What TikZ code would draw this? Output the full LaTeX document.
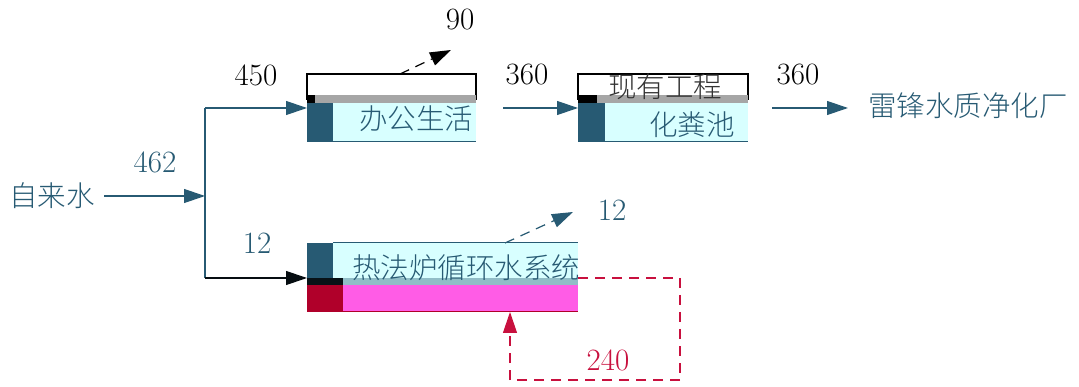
\documentclass[tikz,border=0pt]{standalone}
\usepackage{fontspec}
\setmainfont{Latin Modern Roman}
\newfontfamily\cjk{Noto Sans CJK SC Light}
\usetikzlibrary{arrows.meta}
\definecolor{teal1}{HTML}{275A73}
\definecolor{cyanf}{HTML}{D8FFFF}
\definecolor{magf}{HTML}{FF5CE6}
\definecolor{redd}{HTML}{B0002A}
\definecolor{crim}{HTML}{C8103E}
\tikzset{
  flow/.style={draw=teal1, line width=1.2pt, -{Triangle[length=21pt,width=14pt]}},
  dflow/.style={flow, dash pattern=on 10pt off 7pt},
  num/.style={font=\fontsize{31}{33}\selectfont, inner sep=0pt},
  cn/.style={font=\cjk\fontsize{28.5}{30}\selectfont, inner sep=0pt, text=teal1},
}
\begin{document}
\begin{tikzpicture}[x=1pt,y=-1pt]
\useasboundingbox (0,0) rectangle (1079,387);
% box 1
\fill[white] (307,74) rectangle (476,100);
\draw[black, line width=1.2pt] (307,100) -- (307,74) -- (476,74) -- (476,100);
\fill[cyanf] (307,100) rectangle (476,142);
\fill[teal1] (307,100) rectangle (333,142);
\fill[black!35] (315,95) rectangle (476,103);
\fill[black] (307,95) rectangle (315,103);
\draw[teal1, line width=1pt] (307,142) -- (476,142);
\node[cn, text=teal1] (b1) at (416,119) {办公生活};
\coordinate (b1in) at (307,108);
\coordinate (b1top) at (400,74);
% box 2
\fill[white] (578,74) rectangle (748,100);
\draw[black, line width=1.2pt] (578,100) -- (578,74) -- (748,74) -- (748,100);
\fill[cyanf] (578,100) rectangle (748,142);
\fill[teal1] (578,100) rectangle (605,142);
\fill[black!35] (585,95) rectangle (748,103);
\fill[black] (578,95) rectangle (597,103);
\draw[teal1, line width=1pt] (578,142) -- (748,142);
\node[cn, text=black!80] (b2a) at (665,87) {现有工程};
\node[cn] (b2) at (692,125) {化粪池};
\coordinate (b2in) at (578,108);
% box 3
\fill[cyanf] (307,243) rectangle (578,278);
\fill[teal1] (307,243) rectangle (333,278);
\draw[teal1, line width=1pt] (333,243) -- (578,243);
\fill[magf] (307,278) rectangle (578,312);
\fill[black!80!teal1] (307,278) rectangle (343,285);
\fill[cyanf!60!teal1] (343,278) rectangle (578,285);
\fill[redd] (307,285) rectangle (343,312);
\draw[redd, line width=1pt] (307,312) -- (578,312);
\node[cn] (b3) at (466,268) {热法炉循环水系统};
\coordinate (b3in) at (307,278);
\coordinate (b3top) at (505,243);
\coordinate (b3r) at (578,278);
\coordinate (b3b) at (510,312);
% left inputs
\node[cn] (src) at (52,196) {自来水};
\coordinate (j) at (205,196);
\coordinate (jt) at (205,108);
\coordinate (jb) at (205,278);
\draw[flow] (104,196) -- (j);
\draw[teal1, line width=1.2pt] (jt) -- (jb);
\draw[flow] (jt) -- (b1in);
\draw[flow, draw=black!85!teal1] (jb) -- (b3in);
\node[num, text=teal1] (l462) at (155,162) {462};
\node[num] (l450) at (256,75) {450};
\node[num, text=teal1] (l12a) at (257,243) {12};
% box1 -> box2
\coordinate (b1out) at (503,108);
\draw[flow] (b1out) -- (b2in);
\node[num] (l360a) at (527,75) {360};
% box2 -> plant
\coordinate (b2out) at (772,108);
\node[cn] (plant) at (968,106) {雷锋水质净化厂};
\draw[flow] (b2out) -- (848,108);
\node[num] (l360b) at (798,75) {360};
% evaporation
\coordinate (e1) at (451,50);
\draw[dflow, draw=black] (b1top) -- (e1);
\node[num] (l90) at (460,20) {90};
\coordinate (e2) at (573,212);
\draw[dflow] (b3top) -- (e2);
\node[num, text=teal1] (l12b) at (612,210) {12};
% recirculation loop
\draw[crim, line width=1.2pt, dash pattern=on 10pt off 7pt, -{Triangle[length=21pt,width=14pt]}]
  (b3r) -- (680,278) -- (680,380) -- (510,380) -- (b3b);
\node[num, text=crim] (l240) at (608,360) {240};
\end{tikzpicture}
\end{document}
